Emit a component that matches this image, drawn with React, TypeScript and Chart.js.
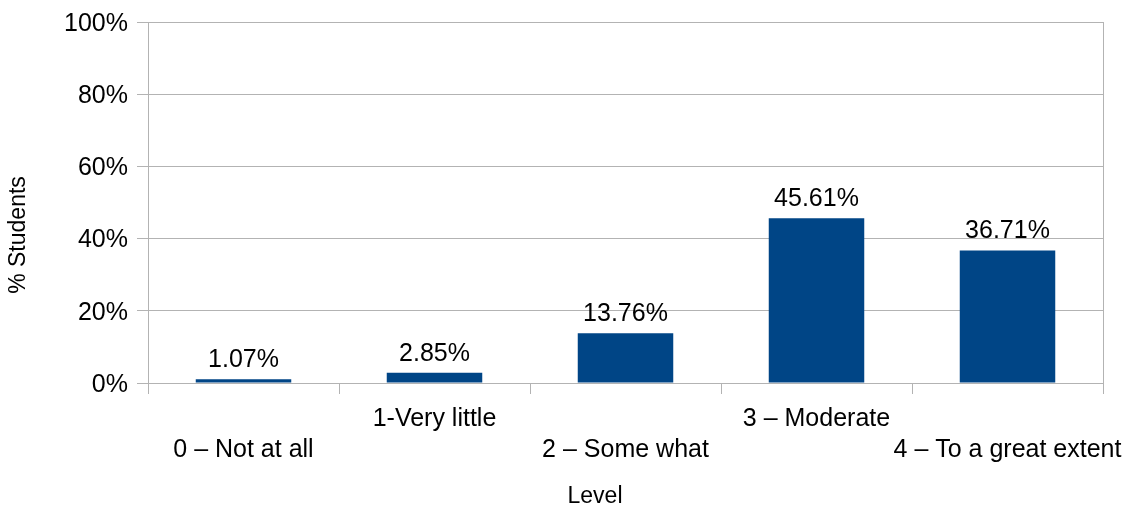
import React, { useEffect, useRef } from "react";
import { Chart, registerables } from "chart.js";

Chart.register(...registerables);

const categories = [
  "0 – Not at all",
  "1-Very little",
  "2 – Some what",
  "3 – Moderate",
  "4 – To a great extent",
];
const percentages = [1.07, 2.85, 13.76, 45.61, 36.71];
const yMin = 0;
const yMax = 100;
const yStep = 20;
const yTitle = "% Students";
const xTitle = "Level";

const FONT = '"Liberation Sans", Arial, sans-serif';
const GRID = "#b3b3b3";
const BAR = "#004586";

const valueLabels = {
  id: "valueLabels",
  afterDatasetsDraw(chart: any) {
    const ctx = chart.ctx;
    const meta = chart.getDatasetMeta(0);
    ctx.save();
    ctx.font = `25px ${FONT}`;
    ctx.fillStyle = "#000";
    ctx.textAlign = "center";
    ctx.textBaseline = "alphabetic";
    meta.data.forEach((bar: any, i: number) => {
      ctx.fillText(percentages[i].toFixed(2) + "%", bar.x, bar.y - 12);
    });
    ctx.restore();
  },
};

const frameAndTitles = {
  id: "frameAndTitles",
  afterDraw(chart: any) {
    const ctx = chart.ctx;
    const a = chart.chartArea;
    ctx.save();
    ctx.strokeStyle = GRID;
    ctx.lineWidth = 1;
    const rx = Math.round(a.right) + 0.5;
    ctx.beginPath();
    ctx.moveTo(rx, a.top);
    ctx.lineTo(rx, a.bottom);
    ctx.stroke();

    ctx.fillStyle = "#000";
    ctx.font = `23px ${FONT}`;
    ctx.textAlign = "center";
    ctx.textBaseline = "middle";
    ctx.fillText(xTitle, 595, 497);
    ctx.translate(19, 235);
    ctx.rotate(-Math.PI / 2);
    ctx.fillText(yTitle, 0, 0);
    ctx.restore();
  },
};

export default function App() {
  const ref = useRef<HTMLCanvasElement | null>(null);

  useEffect(() => {
    if (!ref.current) return;
    const chart = new Chart(ref.current, {
      type: "bar",
      data: {
        labels: categories,
        datasets: [
          {
            data: percentages,
            backgroundColor: BAR,
            borderWidth: 0,
            barPercentage: 0.5,
            categoryPercentage: 1.0,
          },
        ],
      },
      options: {
        animation: false,
        responsive: false,
        layout: { padding: { left: 0, right: 30, top: 22, bottom: 0 } },
        plugins: {
          legend: { display: false },
          tooltip: { enabled: false },
        },
        scales: {
          x: {
            grid: {
              display: true,
              drawOnChartArea: false,
              drawTicks: true,
              tickLength: 11,
              color: GRID,
              offset: true,
            },
            border: { display: true, color: GRID },
            ticks: {
              color: "#000",
              font: { family: FONT, size: 25, lineHeight: 1.26 },
              padding: 9,
              maxRotation: 0,
              minRotation: 0,
              autoSkip: false,
              callback: (_v: any, i: number) =>
                i % 2 === 0 ? ["", categories[i]] : categories[i],
            },
            afterFit: (scale: any) => {
              scale.height = 125;
              scale.paddingLeft = 0;
              scale.paddingRight = 0;
            },
          },
          y: {
            min: yMin,
            max: yMax,
            grid: {
              color: GRID,
              tickLength: 11,
              drawTicks: true,
            },
            border: { display: true, color: GRID },
            ticks: {
              stepSize: yStep,
              color: "#000",
              font: { family: FONT, size: 25 },
              padding: 9,
              labelOffset: 2,
              callback: (v: any) => v + "%",
            },
            afterFit: (scale: any) => {
              scale.width = 148;
              scale.paddingTop = 0;
              scale.paddingBottom = 0;
            },
          },
        },
      },
      plugins: [valueLabels, frameAndTitles],
    });
    return () => chart.destroy();
  }, []);

  return (
    <div style={{ position: "absolute", left: 0, top: 0, width: 1133, height: 508, background: "#fff" }}>
      <canvas ref={ref} width={1133} height={508} />
    </div>
  );
}
